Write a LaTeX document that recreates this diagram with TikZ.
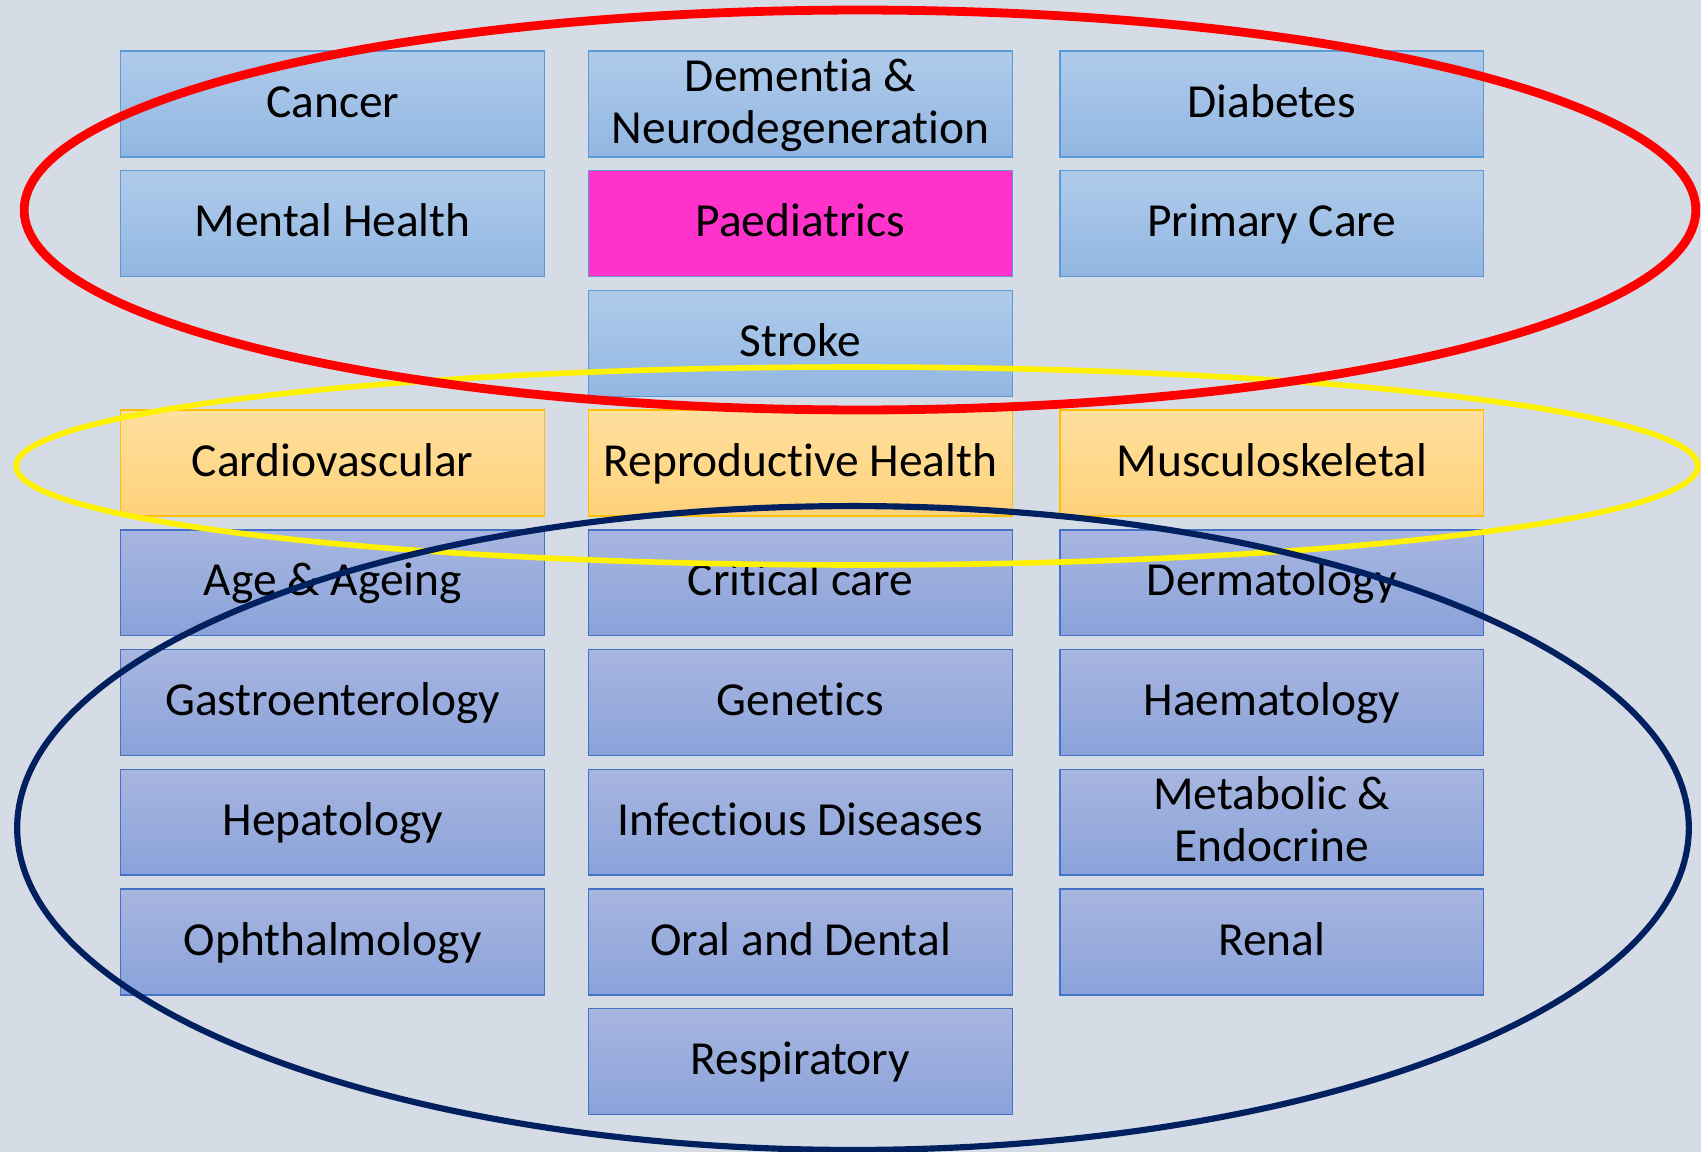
\documentclass[tikz,border=0pt]{standalone}
\usepackage{fontspec}
\setmainfont{Carlito}[Ligatures=NoCommon]
\usepackage{tikz}
\definecolor{backgr}{HTML}{D6DCE5}
\definecolor{bluetop}{HTML}{AFCBEA}
\definecolor{bluebot}{HTML}{92B6E2}
\definecolor{blueline}{HTML}{5B9BD5}
\definecolor{orangetop}{HTML}{FFDF9E}
\definecolor{orangebot}{HTML}{FFD27A}
\definecolor{orangeline}{HTML}{FFC000}
\definecolor{lilactop}{HTML}{A8B6E0}
\definecolor{lilacbot}{HTML}{8AA2DA}
\definecolor{lilacline}{HTML}{4472C4}
\definecolor{pinkfill}{HTML}{FF33CC}
\definecolor{navyring}{HTML}{002060}
\colorlet{redring}{red}
\colorlet{yellowring}{yellow}

\begin{document}
\begin{tikzpicture}[
x=0.02cm, y=-0.02cm,
Box/.style={draw, minimum width=8.48cm, minimum height=2.12cm, align=center, inner sep=0pt, line width=0.8pt, text height=20pt, text depth=5pt, font=\fontsize{27}{29.5}\selectfont},
TwoRows/.style={text height=49.5pt},
TopBox/.style={Box, draw=blueline, top color=bluetop, bottom color=bluebot},
HotBox/.style={Box, draw=blueline, fill=pinkfill},
MidBox/.style={Box, draw=orangeline, top color=orangetop, bottom color=orangebot},
LowBox/.style={Box, draw=lilacline, top color=lilactop, bottom color=lilacbot},
RedRing/.style={draw=redring, line width=5pt},
YellowRing/.style={draw=yellowring, line width=3.2pt},
NavyRing/.style={draw=navyring, line width=3.5pt}
]
\fill[backgr] (0,0) rectangle (1701,1152);
\useasboundingbox (0,0) rectangle (1701,1152);

% columns
\pgfmathparse{332.7}	\let\Xa\pgfmathresult
\pgfmathparse{800.5}	\let\Xb\pgfmathresult
\pgfmathparse{1271.8}	\let\Xc\pgfmathresult

% rows
\pgfmathparse{104}		\let\Ya\pgfmathresult
\pgfmathparse{223.7}	\let\Yb\pgfmathresult
\pgfmathparse{343.4}	\let\Yc\pgfmathresult
\pgfmathparse{463.1}	\let\Yd\pgfmathresult
\pgfmathparse{582.8}	\let\Ye\pgfmathresult
\pgfmathparse{702.5}	\let\Yf\pgfmathresult
\pgfmathparse{822.2}	\let\Yg\pgfmathresult
\pgfmathparse{941.9}	\let\Yh\pgfmathresult
\pgfmathparse{1061.6}	\let\Yi\pgfmathresult

% upper group
\node[TopBox] (cancer) at (\Xa,\Ya) {Cancer};
\node[TopBox,TwoRows] (dementia) at (\Xb,\Ya) {Dementia \&\\Neurodegeneration};
\node[TopBox] (diabetes) at (\Xc,\Ya) {Diabetes};
\node[TopBox] (mental) at (\Xa,\Yb) {Mental Health};
\node[HotBox] (paed) at (\Xb,\Yb) {Paediatrics};
\node[TopBox] (primary) at (\Xc,\Yb) {Primary Care};
\node[TopBox] (stroke) at (\Xb,\Yc) {Stroke};

% middle group
\node[MidBox] (cardio) at (\Xa,\Yd) {Cardiovascular};
\node[MidBox] (repro) at (\Xb,\Yd) {Reproductive Health};
\node[MidBox] (musculo) at (\Xc,\Yd) {Musculoskeletal};

% lower group
\node[LowBox] (ageing) at (\Xa,\Ye) {Age \& Ageing};
\node[LowBox] (critical) at (\Xb,\Ye) {Critical care};
\node[LowBox] (derma) at (\Xc,\Ye) {Dermatology};
\node[LowBox] (gastro) at (\Xa,\Yf) {Gastroenterology};
\node[LowBox] (genetics) at (\Xb,\Yf) {Genetics};
\node[LowBox] (haemato) at (\Xc,\Yf) {Haematology};
\node[LowBox] (hepato) at (\Xa,\Yg) {Hepatology};
\node[LowBox] (infect) at (\Xb,\Yg) {Infectious Diseases};
\node[LowBox,TwoRows] (metab) at (\Xc,\Yg) {Metabolic \&\\Endocrine};
\node[LowBox] (ophth) at (\Xa,\Yh) {Ophthalmology};
\node[LowBox] (oral) at (\Xb,\Yh) {Oral and Dental};
\node[LowBox] (renal) at (\Xc,\Yh) {Renal};
\node[LowBox] (resp) at (\Xb,\Yi) {Respiratory};

% rings round the groups
\draw[YellowRing] (857,466) ellipse [x radius=16.82cm, y radius=1.98cm];
\draw[RedRing] (860,210) ellipse [x radius=16.72cm, y radius=4cm];
\draw[NavyRing] (853,828) ellipse [x radius=16.72cm, y radius=6.44cm];

\end{tikzpicture}
\end{document}
